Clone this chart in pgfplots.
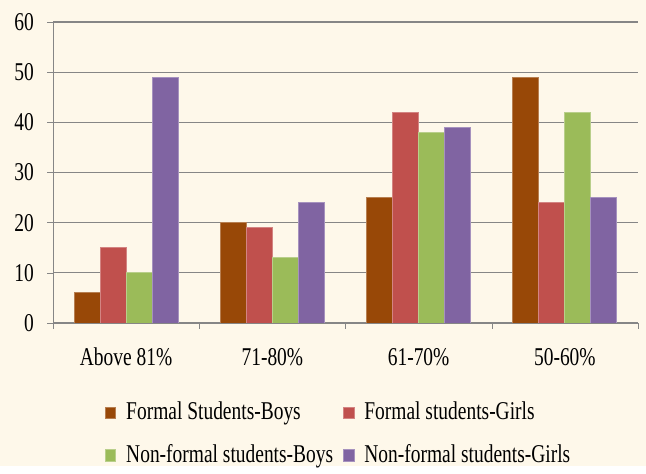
\documentclass[border=0pt]{standalone}
\usepackage{pgfplots}
\pgfplotsset{compat=1.18}
\usepackage{fontspec}
\setmainfont{Liberation Serif}[FakeStretch=0.76]
\definecolor{bgCream}{RGB}{254,248,234}
\definecolor{fBoys}{RGB}{152,72,7}
\definecolor{fGirls}{RGB}{192,80,77}
\definecolor{nBoys}{RGB}{155,187,89}
\definecolor{nGirls}{RGB}{128,100,162}
\definecolor{gridGray}{RGB}{134,134,134}
\begin{document}
\begin{tikzpicture}[x=1pt,y=1pt]
\fill[bgCream] (0,0) rectangle (323,233);
\begin{axis}[
    at={(26.5pt,71.5pt)}, anchor=south west,
    scale only axis,
    width=292.5pt, height=150.5pt,
    ybar=0pt, bar width=13pt,
    xmin=-0.5, xmax=3.5,
    ymin=0, ymax=60,
    ytick={0,10,...,60},
    xtick={0,1,2,3},
    xticklabels={Above 81\%,71-80\%,61-70\%,50-60\%},
    minor xtick={-0.5,0.5,1.5,2.5,3.5},
    axis lines=left,
    axis line style={gridGray, -},
    ymajorgrids,
    grid style={gridGray, line width=0.6pt},
    major x tick style={draw=none},
    minor x tick style={gridGray},
    major y tick style={gridGray},
    tick align=outside,
    major tick length=3pt, minor tick length=3pt,
    tick label style={font=\fontsize{12.8}{14}\selectfont},
    yticklabel style={xshift=-3pt},
    xticklabel style={yshift=-6pt},
    /pgf/number format/assume math mode=true,
    legend style={at={(0.49,-0.235)}, anchor=north, legend columns=2, draw=none, fill=none,
        font=\fontsize{12.8}{14}\selectfont, row sep=7pt, column sep=3pt},
    legend cell align=left,
    legend image code/.code={\fill[#1] (0pt,-2.8pt) rectangle (5.2pt,2.8pt);},
]
\addplot[fill=fBoys, draw=fBoys!70!white] coordinates {(0,6) (1,20) (2,25) (3,49)};
\addlegendentry{Formal Students-Boys}
\addplot[fill=fGirls, draw=fGirls!70!white] coordinates {(0,15) (1,19) (2,42) (3,24)};
\addlegendentry{Formal students-Girls}
\addplot[fill=nBoys, draw=nBoys!70!white] coordinates {(0,10) (1,13) (2,38) (3,42)};
\addlegendentry{Non-formal students-Boys}
\addplot[fill=nGirls, draw=nGirls!70!white] coordinates {(0,49) (1,24) (2,39) (3,25)};
\addlegendentry{Non-formal students-Girls}
\end{axis}
\end{tikzpicture}
\end{document}
